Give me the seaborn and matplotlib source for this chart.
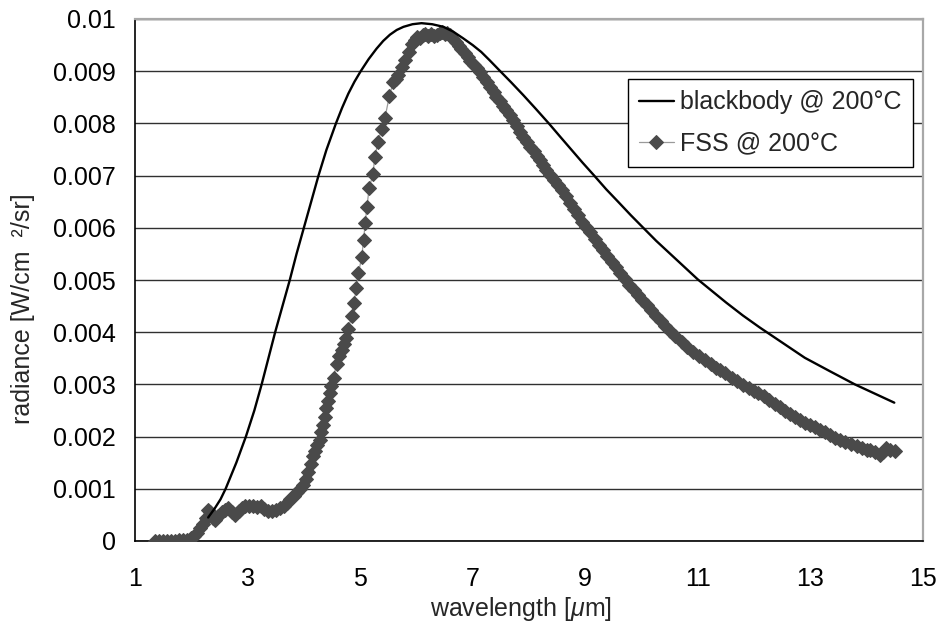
import matplotlib
matplotlib.use("Agg")
import matplotlib.pyplot as plt
import seaborn as sns
import pandas as pd

# ---------------- data ----------------
bb_wavelength = [2.30, 2.42, 2.52, 2.61, 2.80, 2.97, 3.12, 3.25, 3.37, 3.49,
                 3.62, 3.75, 3.87, 4.00, 4.13, 4.26, 4.40, 4.57, 4.68, 4.79,
                 4.90, 5.01, 5.15, 5.29, 5.41, 5.53, 5.65, 5.77, 5.93, 6.09,
                 6.28, 6.48, 6.65, 6.83, 7.00, 7.15, 7.30, 7.48, 7.68, 7.90,
                 8.12, 8.36, 8.55, 8.75, 8.95, 9.15, 9.37, 9.60, 9.81, 10.03,
                 10.26, 10.50, 10.75, 11.00, 11.25, 11.50, 11.80, 12.10, 12.50,
                 12.90, 13.35, 13.79, 14.15, 14.49]
bb_radiance = [0.00045, 0.00063, 0.00080, 0.00100, 0.00150, 0.00200, 0.00250,
               0.00300, 0.00350, 0.00400, 0.00450, 0.00500, 0.00550, 0.00600,
               0.00650, 0.00700, 0.00749, 0.00800, 0.00830, 0.00857, 0.00880,
               0.00900, 0.00923, 0.00943, 0.00958, 0.00970, 0.00979, 0.00985,
               0.00990, 0.00992, 0.00990, 0.00985, 0.00976, 0.00963, 0.00950,
               0.00937, 0.00921, 0.00901, 0.00879, 0.00854, 0.00828, 0.00799,
               0.00775, 0.00750, 0.00725, 0.00701, 0.00674, 0.00648, 0.00624,
               0.00600, 0.00575, 0.00551, 0.00526, 0.00501, 0.00479, 0.00457,
               0.00432, 0.00409, 0.00380, 0.00351, 0.00325, 0.00300, 0.00282,
               0.00265]

fss_wavelength = [
    1.35, 1.43, 1.50, 1.57, 1.64, 1.71, 1.78, 1.85, 1.92, 1.99,
    2.05, 2.10, 2.16, 2.21, 2.26, 2.30, 2.34, 2.38, 2.43, 2.48,
    2.54, 2.60, 2.66, 2.72, 2.78, 2.84, 2.90, 2.96, 3.03, 3.10,
    3.17, 3.24, 3.30, 3.37, 3.44, 3.51, 3.58, 3.64, 3.70, 3.76,
    3.82, 3.88, 3.93, 3.98, 4.03, 4.08, 4.12, 4.16, 4.20, 4.24,
    4.28, 4.31, 4.34, 4.37, 4.40, 4.43, 4.46, 4.49, 4.53, 4.58,
    4.63, 4.67, 4.71, 4.75, 4.79, 4.85, 4.89, 4.93, 4.97, 5.03,
    5.06, 5.09, 5.12, 5.16, 5.23, 5.26, 5.32, 5.38, 5.44, 5.52,
    5.59, 5.64, 5.68, 5.74, 5.80, 5.86, 5.92, 5.97, 6.01, 6.06,
    6.11, 6.16, 6.21, 6.26, 6.31, 6.36, 6.41, 6.45, 6.50, 6.55,
    6.60, 6.65, 6.70, 6.75, 6.80, 6.86, 6.91, 6.96, 7.02, 7.07,
    7.13, 7.19, 7.25, 7.31, 7.37, 7.42, 7.48, 7.54, 7.60, 7.66,
    7.72, 7.78, 7.84, 7.90, 7.96, 8.02, 8.08, 8.14, 8.19, 8.25,
    8.31, 8.37, 8.44, 8.51, 8.58, 8.65, 8.73, 8.80, 8.87, 8.95,
    9.02, 9.09, 9.17, 9.24, 9.32, 9.39, 9.47, 9.55, 9.62, 9.70,
    9.78, 9.86, 9.94, 10.01, 10.09, 10.17, 10.26, 10.34, 10.42, 10.50,
    10.60, 10.71, 10.81, 10.92, 11.02, 11.13, 11.24, 11.33, 11.39, 11.49,
    11.60, 11.70, 11.81, 11.91, 12.00, 12.07, 12.17, 12.27, 12.37, 12.46,
    12.55, 12.64, 12.72, 12.81, 12.90, 12.99, 13.08, 13.17, 13.26, 13.35,
    13.44, 13.52, 13.62, 13.72, 13.82, 13.92, 14.00, 14.06, 14.14, 14.23,
    14.29, 14.35, 14.42, 14.50]
fss_radiance = [
    0.0, 0.0, 0.0, 0.0, 0.0, 0.0, 0.00001, 0.00001, 0.00002, 0.00005,
    0.00010, 0.00016, 0.00024, 0.00033, 0.00045, 0.00060, 0.00055, 0.00045, 0.00040, 0.00048,
    0.00055, 0.00060, 0.00063, 0.00055, 0.00050, 0.00058, 0.00064, 0.00068, 0.00067, 0.00068,
    0.00066, 0.00068, 0.00062, 0.00058, 0.00057, 0.00060, 0.00063, 0.00068, 0.00073, 0.00080,
    0.00087, 0.00093, 0.00099, 0.00108, 0.00118, 0.00132, 0.00148, 0.00162, 0.00173, 0.00183,
    0.00193, 0.00208, 0.00222, 0.00238, 0.00254, 0.00268, 0.00284, 0.00296, 0.00313, 0.00340,
    0.00355, 0.00366, 0.00377, 0.00388, 0.00407, 0.00431, 0.00455, 0.00484, 0.00513, 0.00545,
    0.00577, 0.00609, 0.00640, 0.00676, 0.00704, 0.00736, 0.00765, 0.00789, 0.00810, 0.00853,
    0.00880, 0.00886, 0.00892, 0.00909, 0.00921, 0.00937, 0.00953, 0.00960, 0.00966, 0.00964,
    0.00969, 0.00972, 0.00968, 0.00971, 0.00967, 0.00969, 0.00973, 0.00976, 0.00972, 0.00974,
    0.00969, 0.00962, 0.00955, 0.00948, 0.00942, 0.00935, 0.00927, 0.00919, 0.00912, 0.00906,
    0.00899, 0.00889, 0.00880, 0.00870, 0.00860, 0.00851, 0.00842, 0.00834, 0.00825, 0.00816,
    0.00806, 0.00795, 0.00784, 0.00774, 0.00765, 0.00755, 0.00747, 0.00738, 0.00730, 0.00721,
    0.00711, 0.00702, 0.00692, 0.00682, 0.00672, 0.00660, 0.00647, 0.00636, 0.00624, 0.00612,
    0.00601, 0.00591, 0.00579, 0.00568, 0.00557, 0.00546, 0.00535, 0.00524, 0.00513, 0.00501,
    0.00491, 0.00481, 0.00471, 0.00462, 0.00452, 0.00442, 0.00431, 0.00421, 0.00411, 0.00402,
    0.00392, 0.00382, 0.00372, 0.00363, 0.00355, 0.00347, 0.00339, 0.00332, 0.00328, 0.00321,
    0.00313, 0.00306, 0.00299, 0.00293, 0.00288, 0.00283, 0.00277, 0.00270, 0.00263, 0.00257,
    0.00250, 0.00244, 0.00238, 0.00232, 0.00227, 0.00222, 0.00218, 0.00213, 0.00208, 0.00203,
    0.00198, 0.00193, 0.00189, 0.00186, 0.00182, 0.00178, 0.00175, 0.00174, 0.00170, 0.00165,
    0.00171, 0.00178, 0.00175, 0.00173]

series_labels = ["blackbody @ 200°C", "FSS @ 200°C"]
x_ticks = [1, 3, 5, 7, 9, 11, 13, 15]
y_ticks = [0, 0.001, 0.002, 0.003, 0.004, 0.005, 0.006, 0.007, 0.008, 0.009, 0.01]
y_tick_labels = ["0", "0.001", "0.002", "0.003", "0.004", "0.005", "0.006",
                 "0.007", "0.008", "0.009", "0.01"]
x_label = r"wavelength [$\mu$m]"
y_label = "radiance [W/cm  ²/sr]"

# ---------------- style ----------------
sns.set_style("white")
plt.rcParams["font.family"] = ["Liberation Sans", "DejaVu Sans"]
plt.rcParams["mathtext.fontset"] = "custom"
plt.rcParams["mathtext.rm"] = "Liberation Sans"
plt.rcParams["mathtext.it"] = "Liberation Sans:italic"

FS = 18

fig = plt.figure(figsize=(9.38, 6.27), dpi=100)
ax = fig.add_axes([135 / 938, 1 - 541 / 627, (923 - 135) / 938, (541 - 19) / 627])

bb_df = pd.DataFrame({"wavelength": bb_wavelength, "radiance": bb_radiance})
fss_df = pd.DataFrame({"wavelength": fss_wavelength, "radiance": fss_radiance})

sns.lineplot(data=fss_df, x="wavelength", y="radiance", ax=ax, sort=False,
             color="#9a9a9a", linewidth=0.9, marker="D", markersize=7.2,
             markerfacecolor="#4a4a4a", markeredgecolor="#4a4a4a",
             label=series_labels[1], zorder=3)
sns.lineplot(data=bb_df, x="wavelength", y="radiance", ax=ax, sort=False,
             color="black", linewidth=1.7, label=series_labels[0], zorder=4)

ax.set_xlim(1, 15)
ax.set_ylim(0, 0.01)
ax.set_xticks(x_ticks)
ax.set_xticklabels([str(t) for t in x_ticks])
ax.set_yticks(y_ticks)
ax.set_yticklabels(y_tick_labels)

ax.yaxis.grid(True, color="#303030", linewidth=1.0)
ax.xaxis.grid(False)
ax.set_axisbelow(True)

for side in ["left", "bottom"]:
    ax.spines[side].set_color("black")
    ax.spines[side].set_linewidth(1.2)
for side in ["right", "top"]:
    ax.spines[side].set_color("#a8a8a8")
    ax.spines[side].set_linewidth(1.6)

ax.tick_params(axis="both", direction="out", length=6, width=1.2, color="black",
               labelsize=FS, labelcolor="black")
ax.tick_params(axis="x", pad=13)
ax.tick_params(axis="y", pad=8)

ax.set_xlabel(x_label, fontsize=FS)
ax.set_ylabel(y_label, fontsize=FS)
ax.xaxis.set_label_coords(0.49, -0.103)
ax.yaxis.set_label_coords(-0.127, 0.446)

handles, labels = ax.get_legend_handles_labels()
order = [labels.index(series_labels[0]), labels.index(series_labels[1])]
leg = ax.legend([handles[i] for i in order], [labels[i] for i in order],
                loc="upper right", bbox_to_anchor=(0.987, 0.885),
                fontsize=FS, frameon=True, fancybox=False, framealpha=1,
                edgecolor="black", handlelength=1.4, handletextpad=0.25,
                borderpad=0.45, labelspacing=0.7, borderaxespad=0.0)
leg.get_frame().set_linewidth(1.0)

fig.savefig("out.png", dpi=100, facecolor="white")
